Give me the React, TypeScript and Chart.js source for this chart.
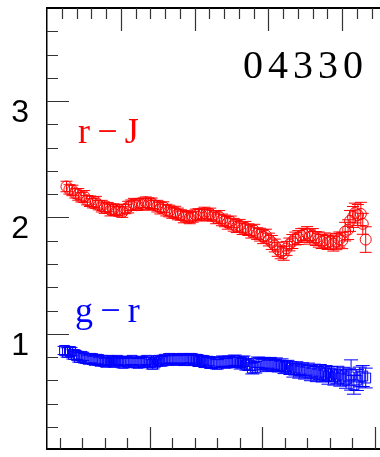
import React, { useEffect, useRef } from "react";
import { Chart, registerables } from "chart.js";

Chart.register(...registerables);

// r-J colour profile (x in top-axis units)
const rjX = [1.32, 1.52, 1.72, 1.92, 2.12, 2.32, 2.52, 2.72, 2.91, 3.11, 3.31, 3.51, 3.71, 3.91, 4.11, 4.30, 4.50, 4.70, 4.90, 5.10,
  5.30, 5.50, 5.70, 5.89, 6.09, 6.29, 6.49, 6.69, 6.89, 7.09, 7.28, 7.48, 7.68, 7.88, 8.08, 8.28, 8.48, 8.68, 8.87, 9.07,
  9.27, 9.47, 9.67, 9.87, 10.07, 10.26, 10.46, 10.66, 10.86, 11.06, 11.26, 11.46, 11.66, 11.85, 12.05, 12.25, 12.45, 12.65, 12.85, 13.05,
  13.25, 13.44, 13.64, 13.84, 14.04, 14.24, 14.44, 14.64, 14.83, 15.03, 15.23, 15.43, 15.63, 15.83, 16.03, 16.23, 16.42, 16.62, 16.82, 17.02,
  17.22, 17.42, 17.62, 17.81, 18.01, 18.21, 18.41, 18.61, 18.81, 19.01, 19.21, 19.40, 19.60, 19.80, 20.00, 20.20, 20.40, 20.53, 20.73, 20.86,
  21.06, 21.26, 21.39, 21.59];
const rjY = [2.266, 2.241, 2.232, 2.207, 2.198, 2.173, 2.181, 2.148, 2.139, 2.122, 2.131, 2.105, 2.097, 2.080, 2.089, 2.063, 2.072, 2.055, 2.063, 2.046,
  2.072, 2.089, 2.105, 2.114, 2.105, 2.122, 2.114, 2.131, 2.114, 2.122, 2.105, 2.097, 2.080, 2.089, 2.063, 2.055, 2.038, 2.046, 2.030, 2.021,
  2.004, 2.013, 1.996, 2.004, 2.021, 2.030, 2.021, 2.038, 2.021, 2.030, 2.013, 1.996, 2.004, 1.979, 1.970, 1.954, 1.962, 1.937, 1.920, 1.928,
  1.903, 1.911, 1.895, 1.878, 1.886, 1.861, 1.852, 1.835, 1.844, 1.810, 1.785, 1.759, 1.726, 1.700, 1.692, 1.734, 1.768, 1.793, 1.819, 1.827,
  1.844, 1.852, 1.861, 1.835, 1.844, 1.819, 1.810, 1.793, 1.802, 1.785, 1.793, 1.776, 1.793, 1.810, 1.802, 1.878, 1.895, 1.970, 2.004, 2.038,
  2.021, 2.030, 1.945, 1.810];
const rjErr = [0.045, 0.04, 0.045, 0.04, 0.05, 0.04, 0.05, 0.04, 0.045, 0.04, 0.05, 0.04, 0.05, 0.045, 0.04, 0.05, 0.045, 0.04, 0.05, 0.045,
  0.04, 0.05, 0.045, 0.05, 0.045, 0.04, 0.05, 0.045, 0.05, 0.045, 0.04, 0.05, 0.05, 0.045, 0.05, 0.05, 0.045, 0.05, 0.05, 0.045,
  0.05, 0.045, 0.05, 0.045, 0.05, 0.045, 0.05, 0.05, 0.05, 0.05, 0.045, 0.05, 0.055, 0.05, 0.05, 0.055, 0.05, 0.055, 0.05, 0.055,
  0.05, 0.055, 0.05, 0.055, 0.055, 0.05, 0.055, 0.06, 0.055, 0.055, 0.06, 0.055, 0.06, 0.055, 0.06, 0.06, 0.055, 0.06, 0.055, 0.06,
  0.06, 0.055, 0.06, 0.065, 0.06, 0.06, 0.065, 0.06, 0.065, 0.06, 0.065, 0.065, 0.07, 0.065, 0.07, 0.08, 0.085, 0.09, 0.09, 0.085,
  0.09, 0.1, 0.09, 0.11];

// g-r colour profile
const grX = [1.19, 1.39, 1.59, 1.79, 1.99, 2.19, 2.38, 2.58, 2.78, 2.98, 3.18, 3.38, 3.58, 3.77, 3.97, 4.17, 4.37, 4.57, 4.77, 4.97,
  5.17, 5.36, 5.56, 5.76, 5.96, 6.16, 6.36, 6.56, 6.75, 6.95, 7.15, 7.35, 7.55, 7.75, 7.95, 8.15, 8.34, 8.54, 8.74, 8.94,
  9.14, 9.34, 9.54, 9.74, 9.93, 10.13, 10.33, 10.53, 10.73, 10.93, 11.13, 11.32, 11.52, 11.72, 11.92, 12.12, 12.32, 12.52, 12.72, 12.91,
  13.11, 13.31, 13.51, 13.71, 13.91, 14.11, 14.30, 14.50, 14.70, 14.90, 15.10, 15.30, 15.50, 15.70, 15.89, 16.09, 16.29, 16.49, 16.69, 16.89,
  17.09, 17.28, 17.48, 17.68, 17.88, 18.08, 18.28, 18.48, 18.68, 18.87, 19.07, 19.27, 19.47, 19.67, 19.87, 20.07, 20.26, 20.46, 20.60, 20.79,
  20.99, 21.19, 21.39, 21.59];
const grY = [0.857, 0.840, 0.848, 0.823, 0.814, 0.797, 0.806, 0.789, 0.781, 0.789, 0.772, 0.781, 0.764, 0.772, 0.755, 0.772, 0.764, 0.755, 0.772, 0.764,
  0.747, 0.764, 0.755, 0.772, 0.755, 0.747, 0.764, 0.755, 0.772, 0.755, 0.738, 0.755, 0.772, 0.764, 0.781, 0.772, 0.789, 0.781, 0.772, 0.781,
  0.789, 0.772, 0.781, 0.789, 0.772, 0.781, 0.764, 0.772, 0.755, 0.764, 0.747, 0.755, 0.738, 0.755, 0.764, 0.747, 0.764, 0.755, 0.772, 0.755,
  0.747, 0.764, 0.738, 0.730, 0.705, 0.713, 0.755, 0.738, 0.747, 0.730, 0.747, 0.730, 0.738, 0.722, 0.730, 0.713, 0.722, 0.705, 0.688, 0.705,
  0.679, 0.696, 0.671, 0.688, 0.662, 0.679, 0.654, 0.671, 0.646, 0.662, 0.637, 0.654, 0.629, 0.646, 0.620, 0.637, 0.612, 0.629, 0.646, 0.561,
  0.603, 0.629, 0.637, 0.620];
const grErr = [0.035, 0.04, 0.035, 0.04, 0.035, 0.04, 0.035, 0.04, 0.035, 0.04, 0.035, 0.04, 0.035, 0.04, 0.035, 0.04, 0.035, 0.04, 0.035, 0.04,
  0.04, 0.035, 0.04, 0.035, 0.04, 0.04, 0.035, 0.04, 0.035, 0.04, 0.04, 0.035, 0.04, 0.04, 0.035, 0.04, 0.04, 0.035, 0.04, 0.04,
  0.04, 0.045, 0.04, 0.04, 0.045, 0.04, 0.045, 0.04, 0.045, 0.04, 0.045, 0.045, 0.04, 0.045, 0.045, 0.04, 0.045, 0.045, 0.045, 0.045,
  0.05, 0.045, 0.05, 0.045, 0.05, 0.05, 0.045, 0.05, 0.05, 0.055, 0.05, 0.05, 0.055, 0.05, 0.055, 0.055, 0.05, 0.055, 0.06, 0.055,
  0.06, 0.055, 0.06, 0.06, 0.065, 0.06, 0.065, 0.065, 0.06, 0.065, 0.07, 0.065, 0.07, 0.075, 0.07, 0.075, 0.08, 0.075, 0.13, 0.08,
  0.09, 0.085, 0.09, 0.085];

// axis tick values
const leftTicks = [0.2, 0.4, 0.6, 0.8, 1, 1.2, 1.4, 1.6, 1.8, 2, 2.2, 2.4, 2.6, 2.8, 3, 3.2, 3.4, 3.6];
const leftMajor = [1, 2, 3];
const yLabels = [1, 2, 3];
const topTicks = [1, 2, 3, 4, 5, 6, 7, 8, 9, 10, 11, 12, 13, 14, 15, 16, 17, 18, 19, 20, 21, 22, 23];
const topMajor = [5, 10, 15, 20];
const bottomTicks = [0.2, 0.4, 0.6, 0.8, 1, 1.2, 1.4, 1.6, 1.8, 2, 2.2, 2.4, 2.6, 2.8, 3, 3.2];
const bottomMajor = [1, 2, 3];

const errorBars = {
  id: "errorBars",
  beforeDatasetsDraw(chart: any) {
    const ctx = chart.ctx;
    chart.data.datasets.forEach((ds: any, di: number) => {
      const meta = chart.getDatasetMeta(di);
      const xs = meta.xScale;
      const ys = meta.yScale;
      const cap = ds.capHalf;
      ctx.save();
      ctx.strokeStyle = ds.borderColor;
      ctx.lineWidth = 1;
      ds.data.forEach((p: any, i: number) => {
        const e = ds.errors[i];
        const px = xs.getPixelForValue(p.x);
        const y1 = ys.getPixelForValue(p.y + e);
        const y2 = ys.getPixelForValue(p.y - e);
        ctx.beginPath();
        ctx.moveTo(px, y1);
        ctx.lineTo(px, y2);
        ctx.moveTo(px - cap, y1);
        ctx.lineTo(px + cap, y1);
        ctx.moveTo(px - cap, y2);
        ctx.lineTo(px + cap, y2);
        ctx.stroke();
      });
      ctx.restore();
    });
  },
};

const frameTicks = {
  id: "frameTicks",
  afterDraw(chart: any) {
    const ctx = chart.ctx;
    const a = chart.chartArea;
    const xb = chart.scales.x;
    const xt = chart.scales.x2;
    const y = chart.scales.y;
    ctx.save();
    ctx.strokeStyle = "#333";
    ctx.lineWidth = 1.2;
    ctx.beginPath();
    leftTicks.forEach((v) => {
      const py = Math.round(y.getPixelForValue(v)) + 0.5;
      const len = leftMajor.includes(v) ? 22 : 11;
      ctx.moveTo(a.left, py);
      ctx.lineTo(a.left + len, py);
    });
    topTicks.forEach((v) => {
      const px = Math.round(xt.getPixelForValue(v)) + 0.5;
      if (px > a.right) return;
      const len = topMajor.includes(v) ? 23 : 11;
      ctx.moveTo(px, a.top);
      ctx.lineTo(px, a.top + len);
    });
    bottomTicks.forEach((v) => {
      const px = Math.round(xb.getPixelForValue(v)) + 0.5;
      if (px < a.left || px > a.right) return;
      const len = bottomMajor.includes(v) ? 22 : 11;
      ctx.moveTo(px, a.bottom);
      ctx.lineTo(px, a.bottom - len);
    });
    ctx.stroke();

    ctx.textBaseline = "alphabetic";
    ctx.textAlign = "left";
    ctx.fillStyle = "#000";
    ctx.font = '40px "Liberation Serif"';
    (ctx as any).letterSpacing = "5px";
    ctx.fillText("04330", 243, 78);
    (ctx as any).letterSpacing = "0px";
    ctx.font = '36px "Liberation Serif"';
    ctx.fillStyle = "#ff0000";
    ctx.fillText("r\u2009\u2212\u2009J", 78, 143);
    ctx.fillStyle = "#0000ff";
    ctx.fillText("g\u2009\u2212\u2009r", 75, 322);
    ctx.restore();
  },
};

export default function App() {
  const ref = useRef<HTMLCanvasElement | null>(null);
  useEffect(() => {
    if (!ref.current) return;
    const chart = new Chart(ref.current, {
      type: "scatter",
      data: {
        datasets: [
          {
            label: "r-J",
            data: rjX.map((x, i) => ({ x, y: rjY[i] })),
            errors: rjErr,
            capHalf: 6,
            xAxisID: "x2",
            yAxisID: "y",
            pointStyle: "circle",
            pointRadius: 5.5,
            borderColor: "#ff0000",
            backgroundColor: "rgba(0,0,0,0)",
            borderWidth: 1,
          } as any,
          {
            label: "g-r",
            data: grX.map((x, i) => ({ x, y: grY[i] })),
            errors: grErr,
            capHalf: 7,
            xAxisID: "x2",
            yAxisID: "y",
            pointStyle: "rect",
            pointRadius: 7,
            borderColor: "#0000ff",
            backgroundColor: "rgba(0,0,0,0)",
            borderWidth: 1,
          } as any,
        ],
      },
      options: {
        animation: false,
        responsive: false,
        devicePixelRatio: 1,
        layout: { padding: { left: 0, right: 0, top: 5, bottom: 3 } },
        plugins: { legend: { display: false }, tooltip: { enabled: false } },
        scales: {
          x: {
            type: "linear",
            position: "bottom",
            min: 0.087,
            max: 3.2,
            grid: { display: false, drawTicks: false },
            ticks: { display: false },
            border: { display: true, color: "#000", width: 2 },
            afterFit: (s: any) => { s.height = 0; s.paddingLeft = 0; s.paddingRight = 0; },
          },
          x2: {
            type: "linear",
            position: "top",
            min: 0,
            max: 23.71,
            grid: { display: false, drawTicks: false },
            ticks: { display: false },
            border: { display: true, color: "#000", width: 2 },
            afterFit: (s: any) => { s.height = 0; s.paddingLeft = 0; s.paddingRight = 0; },
          },
          y: {
            type: "linear",
            position: "left",
            min: 0.01,
            max: 3.8,
            afterBuildTicks: (s: any) => { s.ticks = yLabels.map((v) => ({ value: v })); },
            grid: { display: false, drawTicks: false },
            ticks: {
              color: "#000",
              font: { family: '"Liberation Sans", Arial, sans-serif', size: 32 },
              padding: 18,
              labelOffset: 12,
              callback: (v: any) => String(v),
            },
            border: { display: true, color: "#000", width: 1.5 },
            afterFit: (s: any) => { s.width = 47; s.paddingTop = 0; s.paddingBottom = 0; },
          },
        },
      } as any,
      plugins: [errorBars, frameTicks],
    });
    return () => chart.destroy();
  }, []);

  return (
    <div style={{ position: "fixed", left: 0, top: 0, width: 380, height: 457, overflow: "hidden", background: "#fff" }}>
      <canvas ref={ref} width={405} height={457} style={{ display: "block", width: 405, height: 457 }} />
    </div>
  );
}
